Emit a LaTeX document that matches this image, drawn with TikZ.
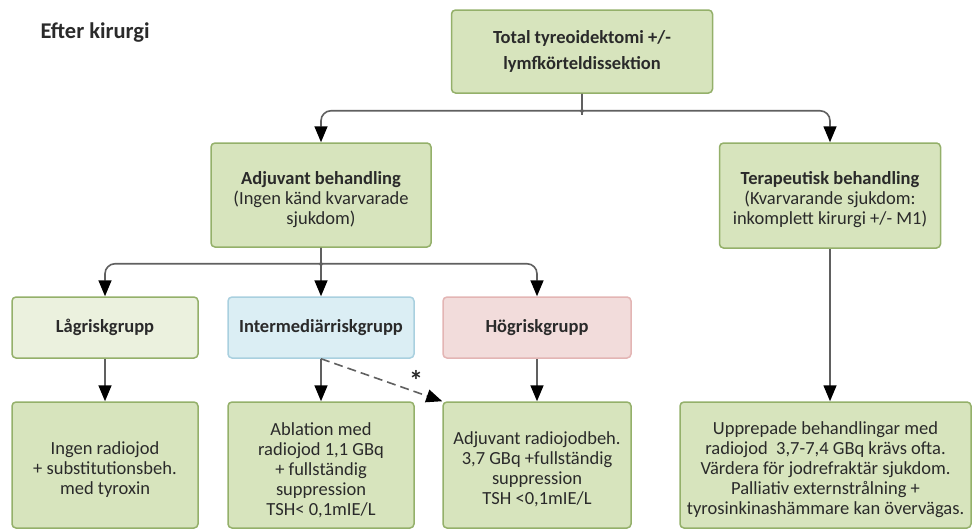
\documentclass[tikz,border=0pt]{standalone}
\usepackage{fontspec}
\setmainfont{Carlito}
\usetikzlibrary{arrows.meta}
\definecolor{gfill}{HTML}{D7E4BD}
\definecolor{gdraw}{HTML}{94B06A}
\definecolor{lfill}{HTML}{EBF1DE}
\definecolor{bfill}{HTML}{DBEEF4}
\definecolor{bdraw}{HTML}{A9D0DF}
\definecolor{pfill}{HTML}{F2DCDB}
\definecolor{pdraw}{HTML}{E3B5B4}
\definecolor{lcol}{HTML}{606060}
\definecolor{tcol}{HTML}{2A2A2A}
\tikzset{
  box/.style={draw=gdraw, fill=gfill, rounded corners=4pt, line width=1.5pt,
    align=center, inner sep=2pt, text=tcol,
    font=\fontsize{18.5}{20}\selectfont},
  txt/.style={align=center, inner sep=0pt, text=tcol, font=\fontsize{18.5}{20}\selectfont},
  riskbox/.style={box, minimum height=61pt, font=\fontsize{18.5}{20}\selectfont\bfseries},
  conn/.style={draw=lcol, line width=1.6pt,
    -{Triangle[length=16pt,width=13pt,color=black]}},
  dconn/.style={conn, dash pattern=on 9pt off 5pt},
}
\begin{document}
\begin{tikzpicture}[x=1pt,y=-1pt]
\useasboundingbox (0,0) rectangle (974,530);
\node[anchor=west, text=tcol, font=\fontsize{22.5}{24}\selectfont\bfseries] (title) at (37,33) {Efter kirurgi};

\node[box, minimum width=261pt, minimum height=83pt, font=\fontsize{18.5}{26}\selectfont\bfseries] (top) at (582,51.5)
  {Total tyreoidektomi +/-\\lymfkörteldissektion};

\node[box, minimum width=220pt, minimum height=104pt] (adj) at (321,195) {};
\node[txt] (adjt) at ([yshift=-4.5pt]adj.center)
  {\textbf{Adjuvant behandling}\\(Ingen känd kvarvarade\\sjukdom)};
\node[box, minimum width=221pt, minimum height=105pt] (ter) at (830,195.5) {};
\node[txt] (tert) at ([yshift=-4.5pt]ter.center)
  {\textbf{Terapeutisk behandling}\\(Kvarvarande sjukdom:\\inkomplett kirurgi +/- M1)};

\node[riskbox, fill=lfill, minimum width=186pt] (low) at (105,327.5) {Lågriskgrupp};
\node[riskbox, fill=bfill, draw=bdraw, minimum width=186pt] (inter) at (321,327.5) {Intermediärriskgrupp};
\node[riskbox, fill=pfill, draw=pdraw, minimum width=188pt] (high) at (537,327.5) {Högriskgrupp};

\node[box, minimum width=186pt, minimum height=126pt] (lowb) at (105,465) {};
\node[txt] (lowbt) at ([yshift=-5pt]lowb.center)
  {Ingen radiojod\\+ substitutionsbeh.\\med tyroxin};
\node[box, minimum width=186pt, minimum height=126pt] (interb) at (321,465) {};
\node[txt] (interbt) at ([yshift=-5pt]interb.center)
  {Ablation med\\radiojod 1,1 GBq\\+ fullständig\\suppression\\TSH< 0,1mIE/L};
\node[box, minimum width=188pt, minimum height=126pt] (highb) at (537,465) {};
\node[txt] (highbt) at ([yshift=-4.5pt]highb.center)
  {Adjuvant radiojodbeh.\\3,7 GBq +fullständig\\suppression\\TSH <0,1mIE/L};
\node[box, minimum width=291pt, minimum height=126pt] (terb) at (825.5,465) {};
\node[txt] (terbt) at ([yshift=-5pt]terb.center)
  {Upprepade behandlingar med\\radiojod\ \ 3,7-7,4 GBq krävs ofta.\\Värdera för jodrefraktär sjukdom.\\Palliativ externstrålning +\\tyrosinkinashämmare kan övervägas.};

\node[text=tcol, font=\fontsize{28}{28}\selectfont\bfseries] (star) at (416,380) {*};

% top split
\draw[conn, rounded corners=10pt] (top.south) -- ++(0,11) .. controls +(0,6) and +(6,0) .. ++(-8,6) -| (adj.north);
\draw[conn, rounded corners=10pt] (top.south) -- ++(0,11) .. controls +(0,6) and +(-6,0) .. ++(8,6) -| (ter.north);

% adjuvant split
\draw[conn, rounded corners=10pt] (adj.south) -- ++(0,10) .. controls +(0,6) and +(6,0) .. ++(-8,6) -| (low.north);
\draw[conn, rounded corners=10pt] (adj.south) -- ++(0,10) .. controls +(0,6) and +(-6,0) .. ++(8,6) -| (high.north);
\draw[conn] (adj.south) -- (inter.north);

\draw[conn] (ter.south) -- (ter.south |- terb.north);
\draw[conn] (low.south) -- (lowb.north);
\draw[conn] (inter.south) -- (interb.north);
\draw[conn] (high.south) -- (highb.north);
\draw[dconn] (inter.south) -- (highb.north west);
\end{tikzpicture}
\end{document}
